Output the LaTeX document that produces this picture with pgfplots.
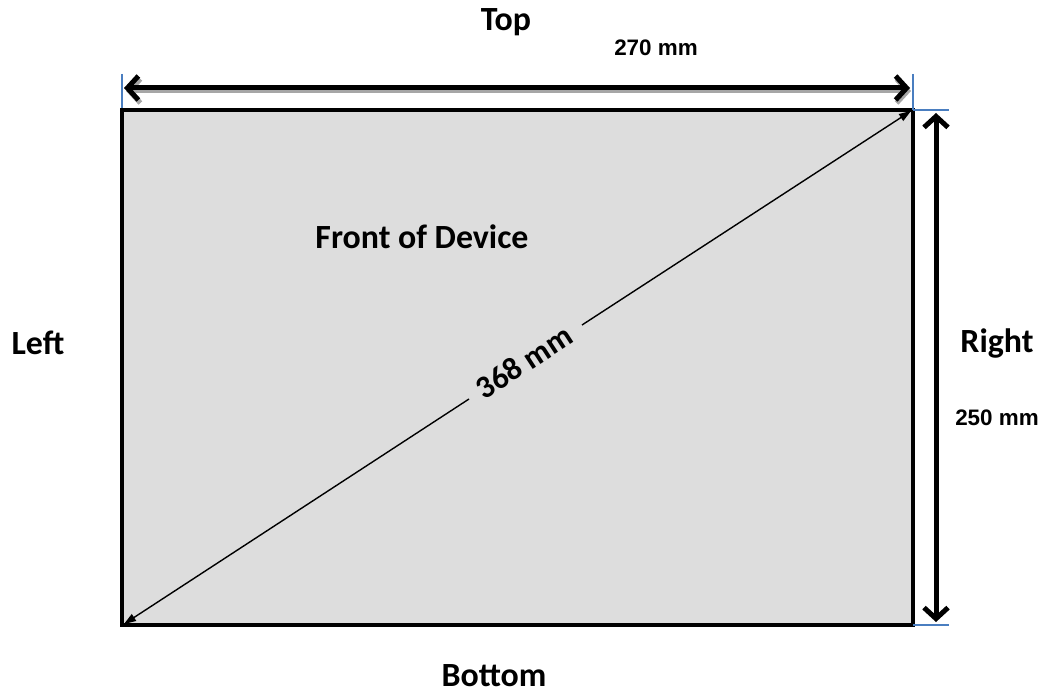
\documentclass[border=0pt]{standalone}
\usepackage{pgfplots}
\pgfplotsset{compat=1.18}
\usepackage{fontspec}
\setmainfont{Carlito}
\newfontfamily\arial{Liberation Sans}
\usetikzlibrary{arrows.meta}
\definecolor{boxgray}{HTML}{DDDDDD}
\definecolor{guideblue}{HTML}{4A7EC0}
\begin{document}
\begin{tikzpicture}
\begin{axis}[
  width=1047bp, height=694bp, scale only axis,
  xmin=0, xmax=1047, ymin=0, ymax=694, y dir=reverse,
  hide axis, clip=false,
]
% box
\addplot[draw=black, line width=4bp, fill=boxgray] coordinates {(122,110) (913,110) (913,625) (122,625)} -- cycle;
% blue guide lines
\addplot[guideblue, line width=1.2bp] coordinates {(122,74) (122,108)};
\addplot[guideblue, line width=1.2bp] coordinates {(913,74) (913,110)};
\addplot[guideblue, line width=1.2bp] coordinates {(913,110) (949,110)};
\addplot[guideblue, line width=1.2bp] coordinates {(913,625) (949,625)};
% top arrow shadow + arrow
\addplot[gray!70, line width=5bp, {Straight Barb[length=11bp,width=24bp]}-{Straight Barb[length=11bp,width=24bp]}, shorten <=1bp, shorten >=1bp] coordinates {(125,91) (912,91)};
\addplot[black, line width=5bp, {Straight Barb[length=11bp,width=24bp]}-{Straight Barb[length=11bp,width=24bp]}, shorten <=1bp, shorten >=1bp] coordinates {(123,88) (911,88)};
% right arrow
\addplot[black, line width=5bp, {Straight Barb[length=11bp,width=24bp]}-{Straight Barb[length=11bp,width=24bp]}] coordinates {(936,113) (936,622)};
% diagonal
\addplot[black, line width=1.4bp, -{Triangle[length=12bp,width=8bp]}] coordinates {(469,399) (124,624)};
\addplot[black, line width=1.4bp, -{Triangle[length=12bp,width=8bp]}] coordinates {(582,325) (911,111)};
% labels
\tikzset{every node/.style={inner sep=0pt}}
\node[font=\fontsize{34}{34}\selectfont\bfseries] at (axis cs:506,22) {Top};
\node[font=\arial\fontsize{22.5}{22.5}\selectfont\bfseries] at (axis cs:656,48) {270 mm};
\node[font=\fontsize{34}{34}\selectfont\bfseries] at (axis cs:422,237) {Front of Device};
\node[font=\fontsize{34}{34}\selectfont\bfseries] at (axis cs:38,343) {Left};
\node[font=\fontsize{34}{34}\selectfont\bfseries] at (axis cs:997,343) {Right};
\node[font=\arial\fontsize{22.5}{22.5}\selectfont\bfseries] at (axis cs:997,418) {250 mm};
\node[font=\fontsize{34}{34}\selectfont\bfseries] at (axis cs:494,676) {Bottom};
\node[font=\fontsize{32}{32}\selectfont\bfseries, rotate=33.07] at (axis cs:524,362) {368 mm};
\end{axis}
\pgfresetboundingbox
\path[use as bounding box] (current axis.south west) rectangle (current axis.north east);
\end{tikzpicture}
\end{document}
